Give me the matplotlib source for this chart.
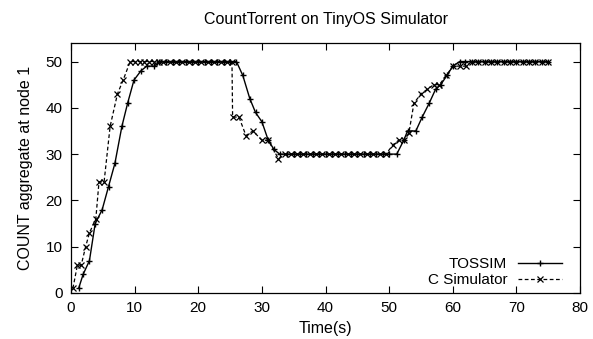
import matplotlib
matplotlib.use("Agg")
import matplotlib.pyplot as plt

# ---------------- data ----------------
tossim_t = [1.2, 1.9, 2.9, 3.8, 4.9, 5.9, 6.9, 8.0, 8.9, 9.9, 11.0, 11.9, 13.1, 13.9,
            15.0, 16.0, 17.0, 18.0, 19.0, 20.0, 21.0, 22.0, 23.0, 24.0, 25.0, 26.0,
            27.0, 28.1, 29.0, 30.0, 31.0, 31.9, 32.8,
            34.0, 35.0, 36.0, 37.0, 38.0, 39.0, 40.0, 41.0, 42.0, 43.0, 44.0, 45.0,
            46.0, 47.0, 48.0, 49.0, 50.0, 51.2,
            52.3, 52.9, 54.2, 55.2, 56.3, 57.3, 58.1, 59.1, 60.0, 61.1,
            62.0, 63.0, 64.0, 65.0, 66.0, 67.0, 68.0, 69.0, 70.0, 71.0, 72.0, 73.0,
            74.0, 75.0]
tossim_v = [1, 4, 7, 15, 18, 23, 28, 36, 41, 46, 48, 49, 49, 50,
            50, 50, 50, 50, 50, 50, 50, 50, 50, 50, 50, 50,
            47, 42, 39, 37, 33, 31, 30,
            30, 30, 30, 30, 30, 30, 30, 30, 30, 30, 30, 30,
            30, 30, 30, 30, 30, 30,
            33, 35, 35, 38, 41, 44, 45, 47, 49, 50,
            50, 50, 50, 50, 50, 50, 50, 50, 50, 50, 50, 50,
            50, 50]

csim_t = [0.3, 1.0, 1.6, 2.3, 2.9, 3.9, 4.4, 5.2, 6.15, 7.3, 8.2, 9.3,
          10.0, 10.8, 11.5, 12.3, 13.0, 13.8, 14.5, 15.5, 16.5, 17.5, 18.5, 19.5,
          20.5, 21.5, 22.5, 23.5, 24.5, 25.3,
          25.4, 26.4, 27.5, 28.6, 30.0, 31.0, 32.6, 33.7,
          34.5, 35.5, 36.5, 37.5, 38.5, 39.5, 40.5, 41.5, 42.5, 43.5, 44.5, 45.5,
          46.5, 47.5, 48.5, 49.5,
          50.6, 51.5, 52.3, 53.1, 53.9, 55.0, 56.0, 57.0, 57.9, 59.0, 60.0, 61.1,
          62.1, 63.0, 64.0, 65.0, 66.0, 67.0, 68.0, 69.0, 70.0, 71.0, 72.0, 73.0,
          74.0, 75.0]
csim_v = [1, 6, 6, 10, 13, 16, 24, 24, 36, 43, 46, 50,
          50, 50, 50, 50, 50, 50, 50, 50, 50, 50, 50, 50,
          50, 50, 50, 50, 50, 50,
          38, 38, 34, 35, 33, 33, 29, 30,
          30, 30, 30, 30, 30, 30, 30, 30, 30, 30, 30, 30,
          30, 30, 30, 30,
          32, 33, 33, 34.5, 41, 43, 44, 45, 45, 47, 49, 49,
          49, 50, 50, 50, 50, 50, 50, 50, 50, 50, 50, 50,
          50, 50]

x_ticks = [0, 10, 20, 30, 40, 50, 60, 70, 80]
y_ticks = [0, 10, 20, 30, 40, 50]

title = "CountTorrent on TinyOS Simulator"
xlabel = "Time(s)"
ylabel = "COUNT aggregate at node 1"
labels = ["TOSSIM", "C Simulator"]

# ---------------- plot ----------------
plt.rcParams['font.family'] = ['Liberation Sans', 'DejaVu Sans']
fig = plt.figure(figsize=(5.93, 3.39), dpi=100)
ax = fig.add_axes([71 / 593, 1 - 293 / 339, (580 - 71) / 593, (293 - 43) / 339])

l1, = ax.plot(tossim_t, tossim_v, color='black', lw=1.0, marker='+',
              markersize=4.5, markeredgewidth=1.0)
l2, = ax.plot(csim_t, csim_v, color='black', lw=0.9, linestyle=(0, (3, 2)),
              marker='x', markersize=4, markeredgewidth=0.9)

ax.set_xlim(0, 80)
ax.set_ylim(0, 54)
ax.set_xticks(x_ticks)
ax.set_yticks(y_ticks)
ax.tick_params(direction='in', top=True, right=True, length=5, width=0.8,
               labelsize=11, pad=6)
for s in ax.spines.values():
    s.set_linewidth(0.9)

ax.set_title(title, fontsize=11.5, pad=14)
ax.set_xlabel(xlabel, fontsize=11.5, labelpad=4)
ax.set_ylabel(ylabel, fontsize=11.5, labelpad=9)

common = dict(frameon=False, markerfirst=False, numpoints=1, loc='center right',
              handlelength=2.9, handletextpad=0.7, borderpad=0, borderaxespad=0,
              fontsize=11)
leg1 = ax.legend([l1], [labels[0]], bbox_to_anchor=(0.965, 0.116), **common)
ax.add_artist(leg1)
leg2 = ax.legend([l2], [labels[1]], bbox_to_anchor=(0.965, 0.052), **common)

fig.savefig("out.png", dpi=100)
